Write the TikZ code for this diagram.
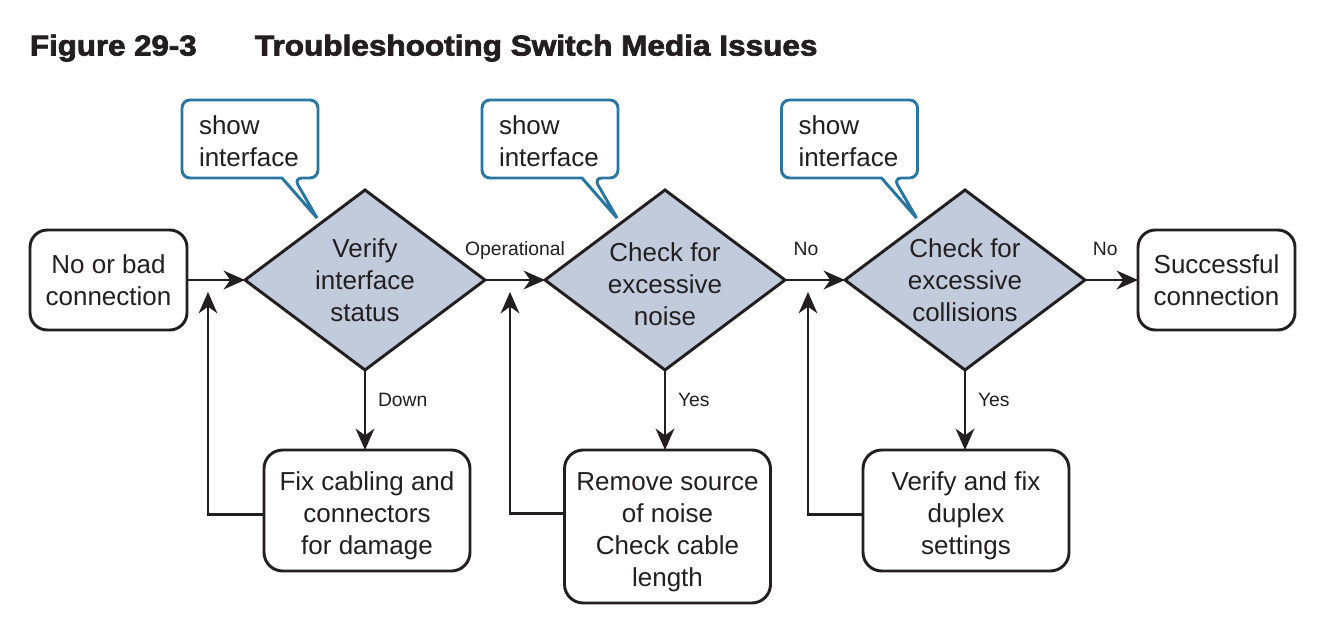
\documentclass[tikz,border=0pt]{standalone}
\usepackage{fontspec}
\setmainfont{Liberation Sans}
\newfontfamily\heavyfont[FakeBold=2.5]{Liberation Sans Bold}
\usetikzlibrary{shapes.geometric,arrows.meta,calc}
\definecolor{ink}{HTML}{231F20}
\definecolor{callblue}{HTML}{2A76A3}
\definecolor{dfill}{HTML}{C2CBDC}
\newcommand{\lift}[1]{\rule{0pt}{#1}}
\begin{document}
\begin{tikzpicture}[x=0.75pt,y=-0.75pt,
  every node/.style={text=ink, outer sep=0pt},
  txt/.style={font=\fontsize{19.5}{24}\selectfont, align=center},
  endbox/.style={txt, draw=ink, line width=2.2pt, rounded corners=13pt, inner sep=0pt, minimum width=117.75pt, minimum height=75pt},
  fixbox/.style={txt, draw=ink, line width=2.2pt, rounded corners=14pt, inner sep=0pt, minimum width=154.5pt},
  dec/.style={txt, diamond, draw=ink, fill=dfill, line width=2.2pt, minimum width=180pt, minimum height=135pt, inner sep=0pt, shape aspect=1.333},
  cotext/.style={txt, align=left, text width=76.5pt, minimum width=102pt, minimum height=58.5pt, inner sep=0pt},
  callout/.style={draw=callblue, line width=2.2pt},
  arr/.style={draw=ink, line width=2.2pt, -{Stealth[length=16pt,width=14pt,inset=5pt]}},
  lbl/.style={font=\fontsize{14.5}{17}\selectfont, inner sep=0pt},
  titlef/.style={anchor=base west, inner sep=0pt, font=\heavyfont\fontsize{21.5}{26}\selectfont}
]
\useasboundingbox[fill=white] (0,0) rectangle (1337,638);

% title
\node[titlef] (fig) at (30,55.5) {\scalebox{1.09}[1]{Figure 29-3}};
\node[titlef] (ttl) at (255,55.5) {\scalebox{1.1}[1]{Troubleshooting Switch Media Issues}};

% main row
\node[endbox] (n0) at (108.5,280) {No or bad\\connection};
\node[dec] (d1) at (365,280) {Verify\\interface\\status};
\node[dec] (d2) at (665,280) {\lift{20.2pt}Check for\\excessive\\noise};
\node[dec] (d3) at (965,280) {Check for\\excessive\\collisions};
\node[endbox] (ok) at (1216.5,280) {Successful\\connection};

% fix boxes
\node[fixbox, minimum height=90.75pt] (b1) at (367,510.5) {\lift{21.7pt}Fix cabling and\\connectors\\for damage};
\node[fixbox, minimum height=114.75pt] (b2) at (667.5,526.5) {\lift{21.7pt}Remove source\\of noise\\Check cable\\length};
\node[fixbox, minimum height=90.75pt] (b3) at (966,510.5) {\lift{21.7pt}Verify and fix\\duplex\\settings};

% callouts
\node[cotext] (c1) at (250,139) {\lift{17.2pt}show\\interface};
\node[cotext] (c2) at (550,139) {\lift{17.2pt}show\\interface};
\node[cotext] (c3) at (849.5,139) {\lift{17.2pt}show\\interface};
\foreach \c in {c1,c2,c3}{
  \draw[callout] ($(\c.south west)+(100,0)$) [rounded corners=6pt] -- (\c.south west) -- (\c.north west) -- (\c.north east) -- (\c.south east) -- ($(\c.south west)+(112,0)$) [sharp corners] -- ($(\c.south east)+(-1,40)$) -- cycle;
}

% horizontal connectors
\draw[arr] (n0.east) -- (d1.west);
\draw[arr] (d1.east) -- node[lbl, pos=0.5, anchor=base, yshift=18.75pt] {Operational} (d2.west);
\draw[arr] (d2.east) -- node[lbl, pos=0.35, anchor=base, yshift=18.75pt] {No} (d3.west);
\draw[arr] (d3.east) -- node[lbl, pos=0.38, anchor=base, yshift=18.75pt] {No} (ok.west);

% down connectors
\draw[arr] (d1.south) -- node[lbl, pos=0.45, anchor=base west, xshift=9.75pt] {Down} (d1.south |- b1.north);
\draw[arr] (d2.south) -- node[lbl, pos=0.45, anchor=base west, xshift=9.75pt] {Yes} (d2.south |- b2.north);
\draw[arr] (d3.south) -- node[lbl, pos=0.45, anchor=base west, xshift=9.75pt] {Yes} (d3.south |- b3.north);

% feedback connectors
\coordinate (t1) at (208,292);
\coordinate (t2) at (510,292);
\coordinate (t3) at (808,292);
\draw[arr] ([yshift=-3pt]b1.west) -| (t1);
\draw[arr] ([yshift=10pt]b2.west) -| (t2);
\draw[arr] ([yshift=-3pt]b3.west) -| (t3);
\end{tikzpicture}
\end{document}
